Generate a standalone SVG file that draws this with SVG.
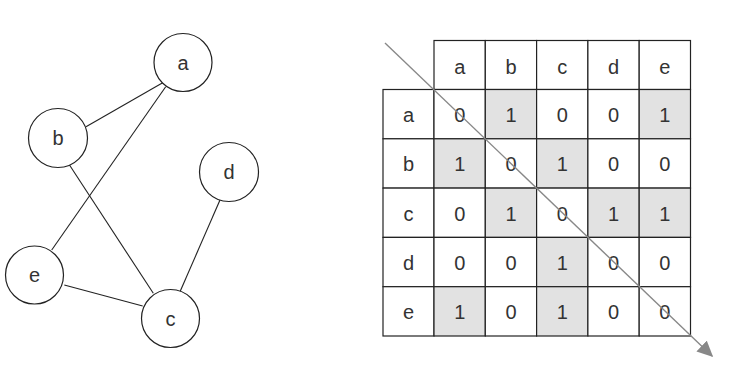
<svg xmlns="http://www.w3.org/2000/svg" width="741" height="374" viewBox="0 0 741 374">
<defs>
<style>
.n{fill:#fff;stroke:#222;stroke-width:1.2}
.e{stroke:#222;stroke-width:1.1;fill:none}
.t{font-family:"Liberation Sans",Arial,sans-serif;font-size:20px;fill:#333;text-anchor:middle;dominant-baseline:central}
.c{fill:#fff;stroke:#222;stroke-width:1.2}
.s{fill:#e2e2e2;stroke:#222;stroke-width:1.2}
</style>
<marker id="ah" viewBox="0 0 10 10" refX="9" refY="5" markerWidth="16" markerHeight="15" markerUnits="userSpaceOnUse" orient="auto" preserveAspectRatio="none">
<path d="M0,0 L10,5 L0,10 z" fill="#888"/>
</marker>
</defs>
<g id="edges">
<line class="e" x1="164" y1="82" x2="86" y2="126.7"/>
<line class="e" x1="165.7" y1="86.7" x2="51.7" y2="250"/>
<line class="e" x1="69" y1="164.3" x2="153.3" y2="293.3"/>
<line class="e" x1="220" y1="200" x2="180" y2="291.7"/>
<line class="e" x1="64.3" y1="285" x2="142.7" y2="306"/>
</g>
<g id="node-a"><circle class="n" cx="183" cy="62.5" r="29"/><text class="t" x="183" y="62.5">a</text></g>
<g id="node-b"><circle class="n" cx="58" cy="138" r="29.5"/><text class="t" x="58" y="138">b</text></g>
<g id="node-d"><circle class="n" cx="229" cy="172" r="29.5"/><text class="t" x="229" y="172">d</text></g>
<g id="node-e"><circle class="n" cx="34.5" cy="275" r="29"/><text class="t" x="34.5" y="275">e</text></g>
<g id="node-c"><circle class="n" cx="170.5" cy="318.5" r="29"/><text class="t" x="170.5" y="318.5">c</text></g>
<g id="matrix">
<rect class="c" x="434" y="40.5" width="51.3" height="49"/>
<rect class="c" x="485.3" y="40.5" width="51.3" height="49"/>
<rect class="c" x="536.6" y="40.5" width="51.3" height="49"/>
<rect class="c" x="587.9" y="40.5" width="51.3" height="49"/>
<rect class="c" x="639.2" y="40.5" width="51.3" height="49"/>
<text class="t" x="459.7" y="67">a</text>
<text class="t" x="511" y="67">b</text>
<text class="t" x="562.3" y="67">c</text>
<text class="t" x="613.6" y="67">d</text>
<text class="t" x="664.9" y="67">e</text>
<rect class="c" x="383" y="89.5" width="51" height="49.3"/>
<rect class="c" x="383" y="138.8" width="51" height="49.3"/>
<rect class="c" x="383" y="188.1" width="51" height="49.3"/>
<rect class="c" x="383" y="237.4" width="51" height="49.3"/>
<rect class="c" x="383" y="286.7" width="51" height="49.3"/>
<text class="t" x="408.5" y="115">a</text>
<text class="t" x="408.5" y="164.3">b</text>
<text class="t" x="408.5" y="213.6">c</text>
<text class="t" x="408.5" y="262.9">d</text>
<text class="t" x="408.5" y="312.2">e</text>
<!-- row a -->
<rect class="c" x="434" y="89.5" width="51.3" height="49.3"/>
<rect class="s" x="485.3" y="89.5" width="51.3" height="49.3"/>
<rect class="c" x="536.6" y="89.5" width="51.3" height="49.3"/>
<rect class="c" x="587.9" y="89.5" width="51.3" height="49.3"/>
<rect class="s" x="639.2" y="89.5" width="51.3" height="49.3"/>
<!-- row b -->
<rect class="s" x="434" y="138.8" width="51.3" height="49.3"/>
<rect class="c" x="485.3" y="138.8" width="51.3" height="49.3"/>
<rect class="s" x="536.6" y="138.8" width="51.3" height="49.3"/>
<rect class="c" x="587.9" y="138.8" width="51.3" height="49.3"/>
<rect class="c" x="639.2" y="138.8" width="51.3" height="49.3"/>
<!-- row c -->
<rect class="c" x="434" y="188.1" width="51.3" height="49.3"/>
<rect class="s" x="485.3" y="188.1" width="51.3" height="49.3"/>
<rect class="c" x="536.6" y="188.1" width="51.3" height="49.3"/>
<rect class="s" x="587.9" y="188.1" width="51.3" height="49.3"/>
<rect class="s" x="639.2" y="188.1" width="51.3" height="49.3"/>
<!-- row d -->
<rect class="c" x="434" y="237.4" width="51.3" height="49.3"/>
<rect class="c" x="485.3" y="237.4" width="51.3" height="49.3"/>
<rect class="s" x="536.6" y="237.4" width="51.3" height="49.3"/>
<rect class="c" x="587.9" y="237.4" width="51.3" height="49.3"/>
<rect class="c" x="639.2" y="237.4" width="51.3" height="49.3"/>
<!-- row e -->
<rect class="s" x="434" y="286.7" width="51.3" height="49.3"/>
<rect class="c" x="485.3" y="286.7" width="51.3" height="49.3"/>
<rect class="s" x="536.6" y="286.7" width="51.3" height="49.3"/>
<rect class="c" x="587.9" y="286.7" width="51.3" height="49.3"/>
<rect class="c" x="639.2" y="286.7" width="51.3" height="49.3"/>
<text class="t" x="459.7" y="115">0</text><text class="t" x="511" y="115">1</text><text class="t" x="562.3" y="115">0</text><text class="t" x="613.6" y="115">0</text><text class="t" x="664.9" y="115">1</text>
<text class="t" x="459.7" y="164.3">1</text><text class="t" x="511" y="164.3">0</text><text class="t" x="562.3" y="164.3">1</text><text class="t" x="613.6" y="164.3">0</text><text class="t" x="664.9" y="164.3">0</text>
<text class="t" x="459.7" y="213.6">0</text><text class="t" x="511" y="213.6">1</text><text class="t" x="562.3" y="213.6">0</text><text class="t" x="613.6" y="213.6">1</text><text class="t" x="664.9" y="213.6">1</text>
<text class="t" x="459.7" y="262.9">0</text><text class="t" x="511" y="262.9">0</text><text class="t" x="562.3" y="262.9">1</text><text class="t" x="613.6" y="262.9">0</text><text class="t" x="664.9" y="262.9">0</text>
<text class="t" x="459.7" y="312.2">1</text><text class="t" x="511" y="312.2">0</text><text class="t" x="562.3" y="312.2">1</text><text class="t" x="613.6" y="312.2">0</text><text class="t" x="664.9" y="312.2">0</text>
</g>
<g id="diagonal">
<line x1="385" y1="43" x2="712" y2="356" stroke="#888" stroke-width="1.4" marker-end="url(#ah)"/>
</g>
</svg>
